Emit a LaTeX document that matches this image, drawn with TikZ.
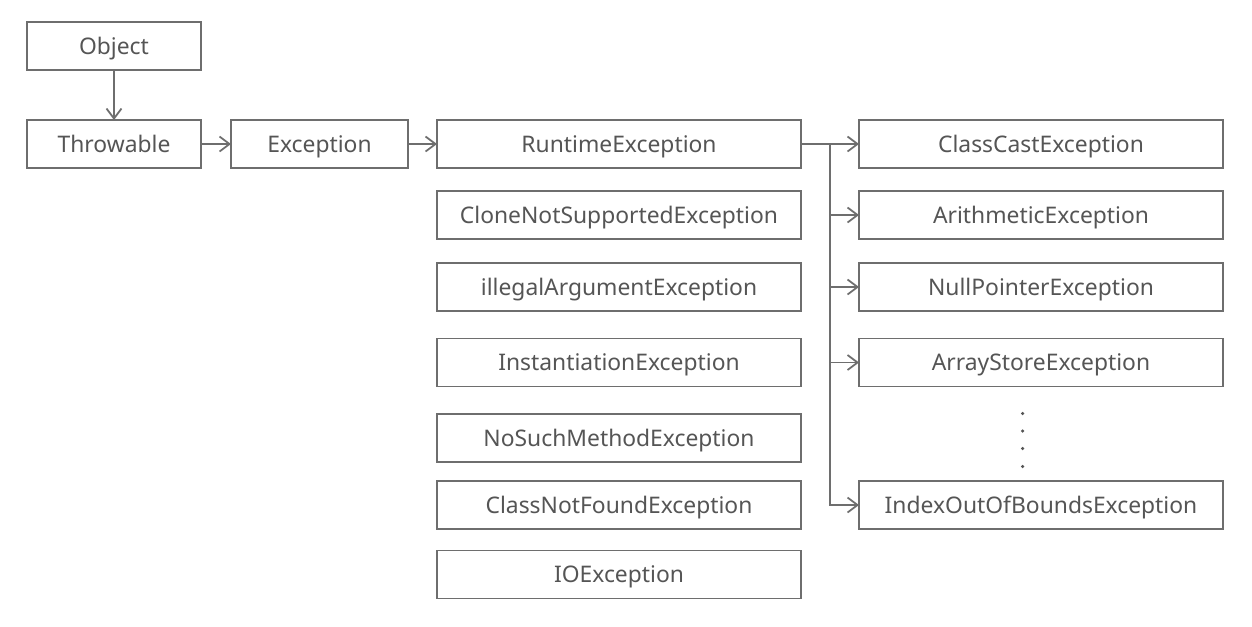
\documentclass[tikz,border=0pt]{standalone}
\usepackage{fontspec}
\setmainfont{Noto Sans}
\usepackage{xcolor}
\usepackage{tikz}
\usetikzlibrary{arrows.meta, positioning, calc}
\definecolor{boxline}{RGB}{110,110,110}
\definecolor{boxtext}{RGB}{85,85,85}

\begin{document}
\begin{tikzpicture}[
   cls/.style={draw=boxline, line width=1pt, text=boxtext, font=\fontsize{13}{15}\selectfont,
               minimum height=9.6mm, inner sep=0pt, outer sep=0pt,
               text height=11pt, text depth=1.8pt},
   small/.style={cls, minimum width=34.8mm},
   wide/.style={cls, minimum width=72.8mm},
   arr/.style={-{Straight Barb[length=2mm, width=3mm]}, draw=boxline, line width=1pt}]

  \useasboundingbox (0,0) rectangle (25.04,-12.52);

  % top chain
  \node[small] (object) at (2.28,-0.92) {Object};
  \node[small, below=10mm of object] (throwable) {Throwable};
  \node[small, minimum width=35.4mm, right=6mm of throwable] (exception) {Exception};
  \node[wide, right=5.8mm of exception] (runtime) {RuntimeException};

  % checked exceptions
  \node[wide, below=4.6mm of runtime] (clone) {CloneNotSupportedException};
  \node[wide, below=4.8mm of clone] (illegal) {illegalArgumentException};
  \node[wide, below=5.5mm of illegal] (inst) {InstantiationException};
  \node[wide, below=5.5mm of inst] (nosuch) {NoSuchMethodException};
  \node[wide, below=3.8mm of nosuch] (notfound) {ClassNotFoundException};
  \node[wide, below=4.3mm of notfound] (io) {IOException};

  % runtime exceptions
  \node[wide, right=11.6mm of runtime] (cast) {ClassCastException};
  \node[wide, right=11.6mm of clone] (arith) {ArithmeticException};
  \node[wide, right=11.6mm of illegal] (nullptr) {NullPointerException};
  \node[wide, right=11.6mm of inst] (store) {ArrayStoreException};
  \node[wide, right=11.6mm of notfound] (bounds) {IndexOutOfBoundsException};
  % vertical ellipsis
  \foreach \y in {-8.27,-8.62,-8.97,-9.33}
    \fill[boxtext] (20.45,\y) circle (0.035);

  \draw[arr] (object) -- (throwable);
  \draw[arr] (throwable) -- (exception);
  \draw[arr] (exception) -- (runtime);
  \draw[arr] (runtime) -- (cast);
  \coordinate (branch) at ($(runtime.east)!0.5!(cast.west)$);
  \draw[arr] (branch) |- (bounds.west);
  \foreach \n in {arith, nullptr, store}
    \draw[arr] (branch |- \n.west) -- (\n.west);
\end{tikzpicture}
\end{document}
